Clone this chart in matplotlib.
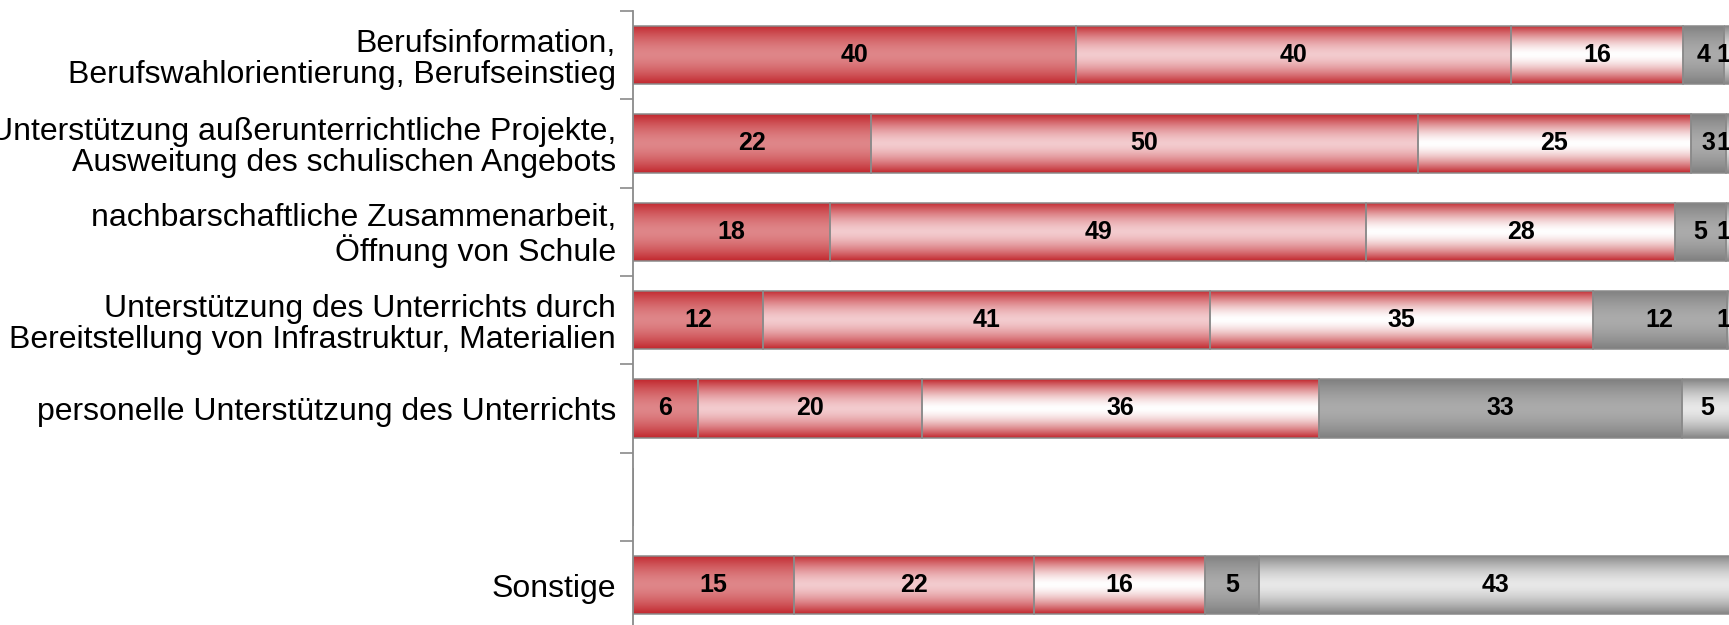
import numpy as np
import matplotlib
matplotlib.use("Agg")
import matplotlib.pyplot as plt
from matplotlib.colors import to_rgb

# ---------------- data ----------------
categories = [
    "Berufsinformation,\nBerufswahlorientierung, Berufseinstieg",
    "Unterstützung außerunterrichtliche Projekte,\nAusweitung des schulischen Angebots",
    "nachbarschaftliche Zusammenarbeit,\nÖffnung von Schule",
    "Unterstützung des Unterrichts durch\nBereitstellung von Infrastruktur, Materialien",
    "personelle Unterstützung des Unterrichts",
    "",
    "Sonstige",
]
s1 = [40.3, 21.7, 18.0, 11.9, 6.0, np.nan, 14.7]
s2 = [39.6, 49.7, 48.7, 40.6, 20.3, np.nan, 21.8]
s3 = [15.6, 24.8, 28.1, 34.8, 36.1, np.nan, 15.6]
s4 = [3.7, 3.2, 4.6, 12.2, 33.0, np.nan, 4.9]
s5 = [0.8, 0.6, 0.6, 0.6, 4.6, np.nan, 43.0]
series = [s1, s2, s3, s4, s5]

# gradient colours per series: (edge colour, centre colour)
grad_colors = [
    ("#c1272d", "#df8689"),
    ("#c1272d", "#f3cbce"),
    ("#c1272d", "#ffffff"),
    ("#7f7f7f", "#ababab"),
    ("#858585", "#e8e8e8"),
]

label_font = "Liberation Sans"
value_font = "Liberation Sans"

# ---------------- figure ----------------
W, H = 1729, 625
fig = plt.figure(figsize=(W / 100, H / 100), dpi=100)
x0_px = 632.5
top_px, bot_px = 11.0, 629.3
ax = fig.add_axes([x0_px / W, (H - bot_px) / H, (W - x0_px) / W, (bot_px - top_px) / H])

n = len(categories)
y = np.arange(n)
bar_h = 0.66
xmax = 99.7

tt = np.linspace(0, 1, 128)
d = np.abs(2 * tt - 1) ** 1.6

left = np.zeros(n)
for vals, (ec, cc) in zip(series, grad_colors):
    vals = np.asarray(vals, dtype=float)
    v = np.nan_to_num(vals)
    bars = ax.barh(y, v, left=left, height=bar_h, facecolor="none",
                   edgecolor="#8a8a8a", linewidth=1.1, zorder=3)
    e = np.array(to_rgb(ec)); c = np.array(to_rgb(cc))
    grad = c[None, :] * (1 - d[:, None]) + e[None, :] * d[:, None]
    img = np.repeat(grad[:, None, :], 2, axis=1)
    for b, val in zip(bars, vals):
        if np.isnan(val) or val <= 0:
            continue
        bx, by = b.get_x(), b.get_y()
        bw, bh = b.get_width(), b.get_height()
        im = ax.imshow(img, extent=(bx, bx + bw, by + bh, by), aspect="auto",
                       interpolation="bilinear", zorder=2)
        im.set_clip_path(b)
        cx = min(bx + bw / 2, xmax - 0.5)
        ax.text(cx, by + bh / 2, f"{val:.0f}", ha="center", va="center",
                fontsize=18, fontweight="bold", family=value_font,
                color="black", zorder=4, clip_on=False)
    left = left + v

ax.set_xlim(0, xmax)
ax.set_ylim(n - 0.5, -0.5)

# ticks: major at category boundaries (marks), minor at centres (labels)
ax.set_yticks(np.arange(n + 1) - 0.5)
ax.set_yticklabels([])
ax.set_yticks(y, minor=True)
ax.set_yticklabels(categories, minor=True, fontsize=23, family=label_font,
                   linespacing=1.04)
ax.tick_params(axis="y", which="major", length=9.5, width=1.2, color="#8a8a8a")
ax.tick_params(axis="y", which="minor", length=0, pad=12)
ax.set_xticks([])

for s in ["top", "right", "bottom"]:
    ax.spines[s].set_visible(False)
ax.spines["left"].set_color("#8a8a8a")
ax.spines["left"].set_linewidth(1.3)

fig.savefig("out.png", dpi=100)
